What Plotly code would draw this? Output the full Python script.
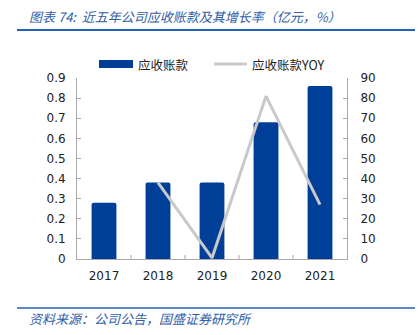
import plotly.graph_objects as go

years = ["2017", "2018", "2019", "2020", "2021"]
receivables = [0.28, 0.38, 0.38, 0.68, 0.86]
yoy_years = ["2018", "2019", "2020", "2021"]
yoy = [38, 0.5, 81, 27]
left_ticks = [0, 0.1, 0.2, 0.3, 0.4, 0.5, 0.6, 0.7, 0.8, 0.9]
right_ticks = [0, 10, 20, 30, 40, 50, 60, 70, 80, 90]

BAR = "#003F98"
GREY = "#C9C9C9"
BLUE_T = "#2F5DA8"
FONT = "DejaVu Sans"

# plot area in pixels
L, R, T, B = 77, 347, 78, 259
W, H = 418, 335
def px(x):
    return (x - L) / (R - L)
def py(y):
    return (B - y) / (B - T)

fig = go.Figure()
fig.add_trace(go.Bar(x=years, y=receivables, name="应收账款", marker=dict(color=BAR, cornerradius=2, line=dict(width=0)),
                     width=0.46, yaxis="y"))
fig.add_trace(go.Scatter(x=yoy_years, y=yoy, name="应收账款YOY", mode="lines",
                         line=dict(color=GREY, width=3), yaxis="y2"))

fig.update_layout(
    width=W, height=H,
    margin=dict(l=L, r=W - R, t=T, b=H - B),
    paper_bgcolor="white", plot_bgcolor="white",
    showlegend=False,
    font=dict(family=FONT, size=12, color="#222"),
    xaxis=dict(type="category", showline=True, linecolor="#AAAAAA", linewidth=1,
               ticks="", showgrid=False, tickfont=dict(size=12, color="#222"), ticklabelstandoff=6),
    yaxis=dict(range=[0, 0.9], tickvals=left_ticks, ticktext=[f"{v:g}" for v in left_ticks],
               showline=True, linecolor="#AAAAAA", linewidth=1, ticks="inside", ticklen=4,
               tickcolor="#AAAAAA", showgrid=False, zeroline=False, ticklabelstandoff=8,
               tickfont=dict(size=12, color="#222")),
    yaxis2=dict(range=[0, 90], tickvals=right_ticks, overlaying="y", side="right",
                showline=True, linecolor="#AAAAAA", linewidth=1, ticks="inside", ticklen=4,
                tickcolor="#AAAAAA", showgrid=False, zeroline=False, ticklabelstandoff=10,
                tickfont=dict(size=12, color="#222")),
)

# category separator ticks on x axis
for i in range(1, 5):
    fig.add_shape(type="line", xref="x", yref="paper", x0=i - 0.5, x1=i - 0.5, y0=0, y1=py(255),
                  line=dict(color="#AAAAAA", width=1))

# title and rules
fig.add_annotation(text="<i>图表 74:  近五年公司应收账款及其增长率（亿元，%）</i>", xref="paper", yref="paper",
                   x=px(27), y=py(16), xanchor="left", yanchor="middle", showarrow=False,
                   font=dict(family="Noto Sans CJK SC, " + FONT, size=13, color=BLUE_T))
fig.add_shape(type="line", xref="paper", yref="paper", x0=px(17), x1=px(415), y0=py(30), y1=py(30),
              line=dict(color="#2360B8", width=2))
fig.add_shape(type="line", xref="paper", yref="paper", x0=px(17), x1=px(415), y0=py(308), y1=py(308),
              line=dict(color="#2360B8", width=1.5))
fig.add_annotation(text="<i>资料来源：公司公告，国盛证券研究所</i>", xref="paper", yref="paper",
                   x=px(27), y=py(318), xanchor="left", yanchor="middle", showarrow=False,
                   font=dict(family="Noto Sans CJK SC, " + FONT, size=13, color=BLUE_T))

# legend
fig.add_shape(type="rect", xref="paper", yref="paper", x0=px(99), x1=px(133), y0=py(68), y1=py(60),
              fillcolor=BAR, line=dict(width=0))
fig.add_annotation(text="应收账款", xref="paper", yref="paper", x=px(136), y=py(64), xanchor="left",
                   yanchor="middle", showarrow=False, font=dict(family="Noto Sans CJK SC", size=12.5, color="#222"))
fig.add_shape(type="line", xref="paper", yref="paper", x0=px(214), x1=px(247), y0=py(64), y1=py(64),
              line=dict(color=GREY, width=3))
fig.add_annotation(text="应收账款YOY", xref="paper", yref="paper", x=px(250), y=py(64), xanchor="left",
                   yanchor="middle", showarrow=False, font=dict(family="Noto Sans CJK SC", size=12.5, color="#222"))

fig.write_html("out.html")
